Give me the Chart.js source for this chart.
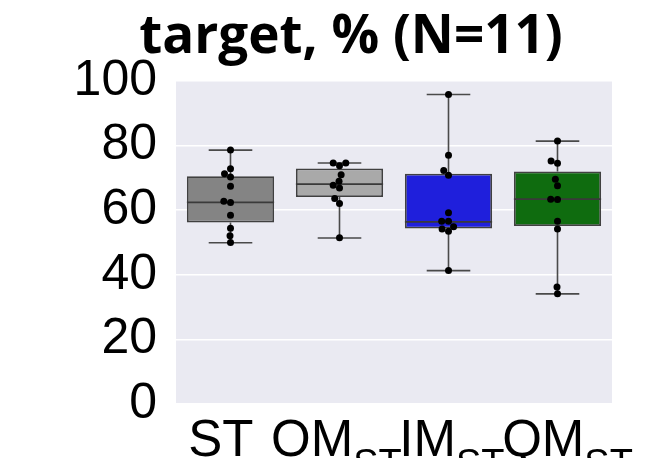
<!DOCTYPE html>
<html>
<head>
<meta charset="utf-8">
<script src="https://cdn.jsdelivr.net/npm/chart.js@4/dist/chart.umd.min.js"></script>
<style>
  html, body { margin: 0; background: #fff; }
  #wrap { width: 667px; height: 458px; }
</style>
</head>
<body>
<div id="wrap"><canvas id="chart"></canvas></div>
<script>
// categories + subscript part of each tick label
const categories = ['ST', 'OM', 'IM', 'QM'];
const subLabels = ['', 'ST', 'ST', 'ST'];
const yTicks = [0, 20, 40, 60, 80, 100];
const titleText = 'target, % (N=11)';

// box stats
const q1 = [56.2, 64.1, 54.3, 55.1];
const q3 = [70.5, 72.9, 71.3, 72.0];
const medians = [62.4, 68.1, 56.4, 63.4];
const whiskerLo = [49.9, 51.4, 41.3, 34.1];
const whiskerHi = [78.6, 74.6, 95.8, 81.4];

// individual subjects
const stPoints = [78.6, 72.8, 71.3, 70.3, 67.4, 62.8, 62.4, 58.4, 54.4, 52.1, 50.0];
const omPoints = [74.6, 73.8, 74.6, 71.0, 69.0, 67.7, 66.9, 63.6, 62.1, 51.5];
const imPoints = [95.8, 77.0, 72.3, 70.8, 59.2, 56.6, 56.6, 54.9, 54.2, 53.5, 41.3];
const qmPoints = [81.4, 75.2, 74.5, 69.6, 67.6, 63.4, 63.3, 56.6, 54.2, 36.2, 34.1];

const boxColors = ['#848484', '#a9a9a9', '#1f1fdc', '#0f6c0f'];

(function () {
  const groups = [stPoints, omPoints, imPoints, qmPoints];
  const scatterData = [];
  groups.forEach((g, i) => g.forEach((v) => scatterData.push({ x: i, y: v })));

  const bgPlugin = {
    id: 'plotBg',
    beforeDraw(chart) {
      const a = chart.chartArea;
      const c = chart.ctx;
      c.save();
      c.fillStyle = '#eaeaf2';
      c.fillRect(a.left, a.top, a.right - a.left, a.bottom - a.top);
      // title sits a bit left of the plot centre in the original
      c.fillStyle = '#000';
      c.font = 'bold 53px "Open Sans"';
      c.textAlign = 'center';
      c.textBaseline = 'alphabetic';
      c.fillText(titleText, 351, 53);
      c.restore();
    },
  };

  // simple beeswarm: place each point at the free spot closest to the centre
  const swarmPlugin = {
    id: 'swarm',
    afterDatasetsUpdate(chart) {
      const meta = chart.getDatasetMeta(1);
      const xScale = chart.scales.x;
      const d = 6.8;
      const byCat = {};
      meta.data.forEach((el, k) => {
        const cat = scatterData[k].x;
        (byCat[cat] = byCat[cat] || []).push(el);
      });
      Object.keys(byCat).forEach((cat) => {
        const cx = xScale.getPixelForValue(Number(cat));
        const els = byCat[cat].slice().sort((a, b) => b.y - a.y);
        const placed = [];
        for (const el of els) {
          const cands = [0];
          for (const p of placed) {
            const dy = Math.abs(p.y - el.y);
            if (dy < d) {
              const dx = Math.sqrt(d * d - dy * dy) + 0.01;
              cands.push(p.off - dx, p.off + dx);
            }
          }
          cands.sort((a, b) => (Math.abs(a) - Math.abs(b)) || (a - b));
          let off = 0;
          for (const o of cands) {
            const hit = placed.some((p) => Math.hypot(p.off - o, p.y - el.y) < d - 0.001);
            if (!hit) { off = o; break; }
          }
          placed.push({ off, y: el.y });
          el.x = cx + off;
        }
      });
    },
  };

  const whiskerPlugin = {
    id: 'whiskers',
    afterDatasetDraw(chart, args) {
      if (args.index !== 0) return;
      const xs = chart.scales.x;
      const ys = chart.scales.y;
      const bars = chart.getDatasetMeta(0).data;
      const c = chart.ctx;
      c.save();
      c.lineCap = 'butt';
      categories.forEach((_, i) => {
        const cx = xs.getPixelForValue(i);
        const w = bars[i].width;
        c.strokeStyle = '#4a4a4a';
        c.lineWidth = 1.6;
        c.beginPath();
        c.moveTo(cx, ys.getPixelForValue(q3[i]));
        c.lineTo(cx, ys.getPixelForValue(whiskerHi[i]));
        c.moveTo(cx, ys.getPixelForValue(q1[i]));
        c.lineTo(cx, ys.getPixelForValue(whiskerLo[i]));
        c.moveTo(cx - w / 4, ys.getPixelForValue(whiskerHi[i]));
        c.lineTo(cx + w / 4, ys.getPixelForValue(whiskerHi[i]));
        c.moveTo(cx - w / 4, ys.getPixelForValue(whiskerLo[i]));
        c.lineTo(cx + w / 4, ys.getPixelForValue(whiskerLo[i]));
        c.stroke();
        c.strokeStyle = '#3a3a3a';
        c.lineWidth = 1.8;
        c.beginPath();
        c.moveTo(cx - w / 2, ys.getPixelForValue(medians[i]));
        c.lineTo(cx + w / 2, ys.getPixelForValue(medians[i]));
        c.stroke();
      });
      c.restore();
    },
  };

  // x tick labels with subscripts (spread a little wider than the ticks, like the original)
  const xLabelPlugin = {
    id: 'xLabels',
    afterDraw(chart) {
      const xs = chart.scales.x;
      const a = chart.chartArea;
      const mid = (a.left + a.right) / 2 - 3;
      const c = chart.ctx;
      const base = 456;
      c.save();
      c.fillStyle = '#000';
      c.textBaseline = 'alphabetic';
      c.textAlign = 'left';
      categories.forEach((lab, i) => {
        c.font = '51px "Liberation Sans"';
        const mw = c.measureText(lab).width;
        c.font = '38px "Liberation Sans"';
        const sw = subLabels[i] ? c.measureText(subLabels[i]).width : 0;
        const cx = mid + (xs.getPixelForValue(i) - mid) * 1.06;
        const x0 = cx - (mw + sw) / 2;
        c.font = '51px "Liberation Sans"';
        c.fillText(lab, x0, base);
        if (subLabels[i]) {
          c.font = '38px "Liberation Sans"';
          c.fillText(subLabels[i], x0 + mw, base + 20);
        }
      });
      c.restore();
    },
  };

  new Chart(document.getElementById('chart'), {
    type: 'bar',
    data: {
      labels: categories,
      datasets: [
        {
          type: 'bar',
          data: categories.map((_, i) => [q1[i], q3[i]]),
          backgroundColor: boxColors,
          borderColor: '#404040',
          borderWidth: 1.8,
          borderSkipped: false,
          grouped: false,
          barPercentage: 0.8,
          categoryPercentage: 1,
          xAxisID: 'x',
          order: 2,
        },
        {
          type: 'scatter',
          data: scatterData,
          xAxisID: 'xs',
          backgroundColor: '#000',
          borderWidth: 0,
          pointRadius: 3.5,
          order: 0,
        },
      ],
    },
    options: {
      responsive: true,
      maintainAspectRatio: false,
      animation: false,
      events: [],
      layout: { padding: { left: 0, right: 55, top: 81, bottom: 0 } },
      scales: {
        x: {
          type: 'category',
          offset: true,
          grid: { display: false },
          border: { display: false },
          ticks: { display: false },
          afterFit: (s) => { s.height = 54; },
        },
        xs: { type: 'linear', min: -0.5, max: 3.5, display: false },
        y: {
          min: yTicks[0],
          max: yTicks[yTicks.length - 1],
          afterBuildTicks: (s) => { s.ticks = yTicks.map((v) => ({ value: v })); },
          ticks: {
            color: '#000',
            padding: 19,
            font: { family: 'Liberation Sans', size: 50 },
          },
          grid: { color: '#ffffff', lineWidth: 1.5, drawTicks: false },
          border: { display: false },
          afterFit: (s) => { s.width = 176; },
        },
      },
      plugins: {
        legend: { display: false },
        tooltip: { enabled: false },
        title: { display: false },
      },
    },
    plugins: [bgPlugin, swarmPlugin, whiskerPlugin, xLabelPlugin],
  });
})();
</script>
</body>
</html>
